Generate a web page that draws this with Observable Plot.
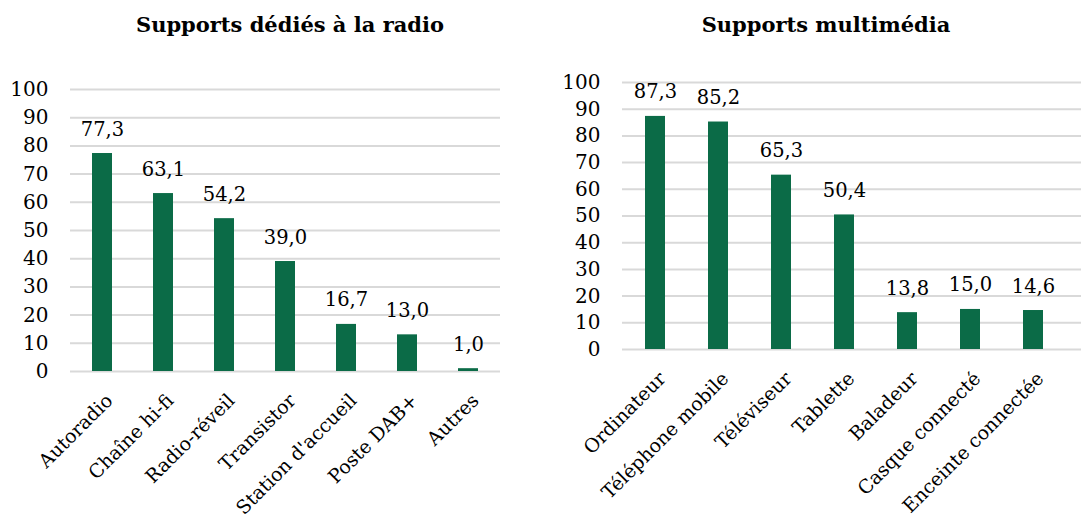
<!DOCTYPE html>
<html>
<head>
<meta charset="utf-8">
<script src="https://cdn.jsdelivr.net/npm/d3@7"></script>
<script src="https://cdn.jsdelivr.net/npm/@observablehq/plot@0.6"></script>
<style>
  body { margin: 0; background: #fff; }
  #wrap { position: relative; width: 1081px; height: 521px; overflow: hidden; font-family: "DejaVu Serif", serif; }
  .title { position: absolute; top: 12px; font-weight: bold; font-size: 21px; color: #000; transform: translateX(-50%); white-space: nowrap; }
  .panel { position: absolute; top: 0; }
</style>
</head>
<body>
<div id="wrap">
  <div class="title" id="t1" style="left:290px"></div>
  <div class="title" id="t2" style="left:826px"></div>
  <div class="panel" id="p1" style="left:0px"></div>
  <div class="panel" id="p2" style="left:540px"></div>
</div>
<script>
const titleRadio = "Supports dédiés à la radio";
const titleMulti = "Supports multimédia";
const radioCategories = ["Autoradio", "Chaîne hi-fi", "Radio-réveil", "Transistor", "Station d'accueil", "Poste DAB+", "Autres"];
const radioValues = [77.3, 63.1, 54.2, 39.0, 16.7, 13.0, 1.0];
const multiCategories = ["Ordinateur", "Téléphone mobile", "Téléviseur", "Tablette", "Baladeur", "Casque connecté", "Enceinte connectée"];
const multiValues = [87.3, 85.2, 65.3, 50.4, 13.8, 15.0, 14.6];
const yTicks = [0, 10, 20, 30, 40, 50, 60, 70, 80, 90, 100];

const barColor = "#0b6b47";
const fmt = v => v.toFixed(1).replace(".", ",");

function panel(cats, vals, opts) {
  const data = cats.map((c, i) => ({cat: c, val: vals[i]}));
  return Plot.plot({
    width: opts.width,
    height: 521,
    marginLeft: opts.marginLeft,
    marginRight: opts.marginRight,
    marginTop: opts.y100,
    marginBottom: 521 - opts.y0,
    style: {fontFamily: "DejaVu Serif, serif", fontSize: "20px", color: "#000", background: "transparent", overflow: "visible"},
    x: {domain: cats, range: opts.xRange, paddingInner: 0.675, paddingOuter: 0.3375, label: null},
    y: {domain: [0, 100], range: [opts.y0, opts.y100], label: null},
    marks: [
      Plot.gridY(yTicks, {stroke: "#d9d9d9", strokeOpacity: 1, strokeWidth: 2}),
      Plot.barY(data, {x: "cat", y: "val", fill: barColor}),
      Plot.text(data, {x: "cat", y: "val", text: d => fmt(d.val), lineAnchor: "bottom", dy: -18, fontSize: 19.5, fill: "#000"}),
      Plot.axisY(yTicks, {tickSize: 0, tickPadding: 22, label: null, fontSize: 20, fill: "#000"}),
      Plot.axisX({tickSize: 0, tickRotate: -45, tickPadding: 26, dx: 7, label: null, fontSize: 19, fill: "#000"})
    ]
  });
}

document.getElementById("t1").textContent = titleRadio;
document.getElementById("t2").textContent = titleMulti;
document.getElementById("p1").append(panel(radioCategories, radioValues, {width: 540, marginLeft: 70, marginRight: 40, xRange: [70, 500], y100: 89, y0: 371}));
document.getElementById("p2").append(panel(multiCategories, multiValues, {width: 541, marginLeft: 82, marginRight: 0, xRange: [83, 526], y100: 82, y0: 349}));
</script>
</body>
</html>
